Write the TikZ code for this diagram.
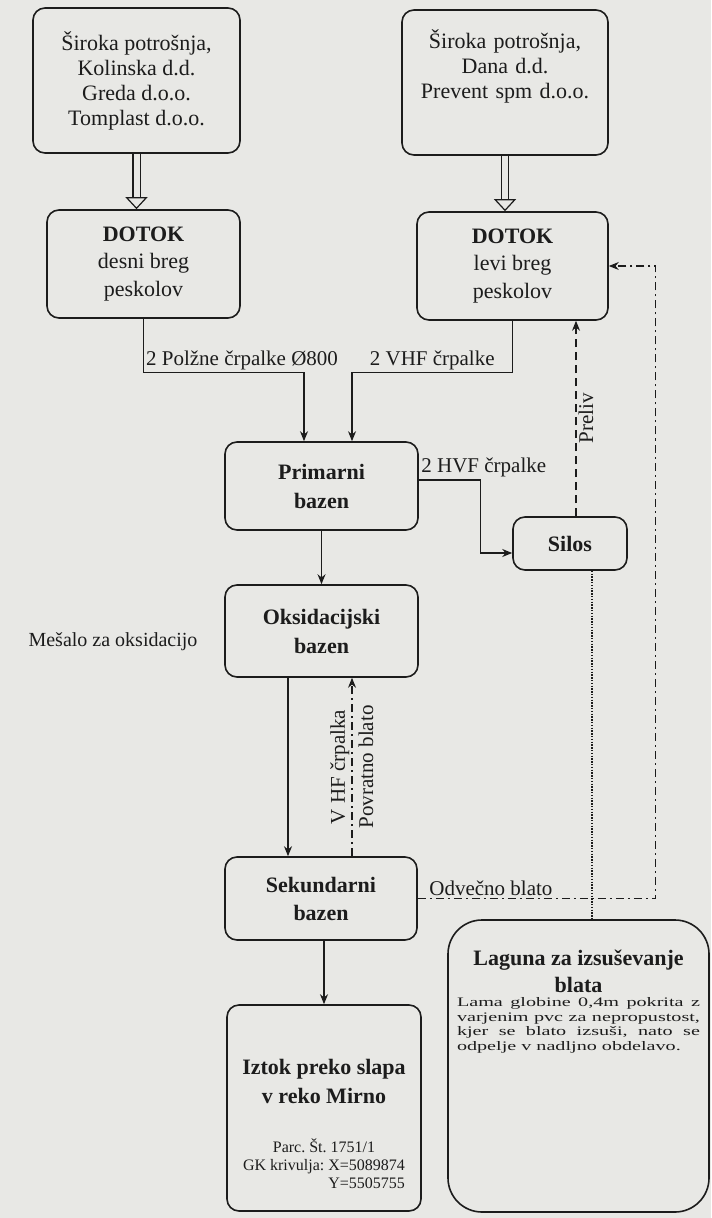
\documentclass[tikz,border=0pt]{standalone}
\usepackage{fontspec}
\setmainfont{Liberation Serif}
\newfontfamily\widefont[FakeStretch=1.55]{Liberation Serif}
\usepackage{tikz}
\usetikzlibrary{arrows.meta, positioning, calc}
\definecolor{bg}{RGB}{232,232,229}
\definecolor{ink}{RGB}{28,28,28}
\tikzset{
    >={Stealth[length=5pt, width=4pt]}, % small filled heads
    box/.style={draw=ink, fill=bg, line width=0.8pt, rounded corners=6pt,
        align=center, inner sep=2pt, text=ink, font=\fontsize{11}{12.5}\selectfont},
    pool/.style={box, font=\bfseries\fontsize{11}{14.5}\selectfont},
    flow/.style={draw=ink, line width=0.6pt, ->},
    lbl/.style={text=ink, inner sep=1pt, font=\fontsize{10.5}{12}\selectfont},
    feed/.style={draw=ink, line width=0.6pt, double=bg, double distance=3pt,
        -{Triangle[open, length=6pt, width=11pt]}},
    overflow/.style={flow, dash pattern=on 4pt off 2.5pt},
    sludge/.style={flow, dash pattern=on 4pt off 2pt on 1pt off 2pt},
    seep/.style={draw=ink, line width=0.6pt, dash pattern=on 0.7pt off 0.7pt},
}

\begin{document}
\frenchspacing
\begin{tikzpicture}[x=0.5pt, y=-0.5pt]
    \path[fill=bg, use as bounding box] (0,0) rectangle (711,1218);

    % sources and inflow
    \node[box, minimum width=103.5pt, minimum height=72.5pt] (src1) at (136.5,80.5)
        {Široka potrošnja,\\ Kolinska d.d.\\ Greda d.o.o.\\ Tomplast d.o.o.};
    \node[box, text width=99pt, inner ysep=0pt, text height=19.5pt, text depth=53pt] (src2) at (505,82.5)
        {{\centering Široka potrošnja,\\ Dana d.d.\\ Prevent spm d.o.o.\par}};
    \node[box, minimum width=96.5pt, minimum height=54pt, font=\fontsize{11}{13.75}\selectfont] (dotd) at (143.5,264)
        {\textbf{DOTOK}\\ desni breg\\ peskolov};
    \node[box, minimum width=95.5pt, minimum height=54pt, font=\fontsize{11}{13.75}\selectfont] (dotl) at (512.5,266)
        {\textbf{DOTOK}\\ levi breg\\ peskolov};

    % basins
    \node[pool, minimum width=96.5pt, minimum height=44pt] (prim) at (321.5,486) {Primarni\\ bazen};
    \node[pool, minimum width=57pt, minimum height=26.5pt] (silos) at (570,543.5) {Silos};
    \node[pool, minimum width=96.5pt, minimum height=46pt] (oks) at (321.5,631) {Oksidacijski\\ bazen};
    \node[pool, minimum width=96pt, minimum height=41.5pt, font=\bfseries\fontsize{11}{14}\selectfont] (sek) at (321,898.5) {Sekundarni\\ bazen};
    \node[lbl, font=\fontsize{10}{12}\selectfont] (mix) at (113,642) {Mešalo za oksidacijo};

    % outlets
    \node[box, text width=93pt, inner ysep=0pt, text height=34.5pt, text depth=68.5pt, align=justify] (izt) at (324,1108)
        {{\centering\bfseries\fontsize{11}{14.5}\selectfont Iztok preko slapa\\ v reko Mirno\par}
        \vskip 15.5pt
        {\centering\fontsize{8}{9}\selectfont
        \begin{tabular}[t]{@{}c@{}}Parc. Št. 1751/1\\ GK krivulja: X=5089874\\ \hfill Y=5505755\end{tabular}\par}};
    \node[box, rounded corners=17pt, text width=121.5pt, inner xsep=4.5pt, inner ysep=0pt,
        text height=22.5pt, text depth=123.5pt, align=justify] (lag) at (578.5,1066)
        {{\centering\bfseries\fontsize{11}{13.5}\selectfont Laguna za izsuševanje\\ blata\par}
        {\widefont\fontsize{6.5}{7.25}\selectfont Lama globine 0,4m pokrita z\linebreak
        varjenim pvc za nepropustost,\linebreak kjer se blato izsuši, nato se\linebreak
        odpelje v nadljno obdelavo.\par}};

    \coordinate (pv) at ($(silos.north)+(6,0)$);
    \coordinate (sv) at ($(silos.south)+(22,0)$);

    \draw[feed] (src1.south) -- (src1.south |- dotd.north);
    \draw[feed] (src2.south) -- (src2.south |- dotl.north);

    \draw[flow] (dotd.south) -- ++(0,54) node[lbl, anchor=south west] {2 Polžne črpalke Ø800}
        -| ($(prim.north)+(-17.5,0)$);
    \draw[flow] (dotl.south) -- ++(0,52)
        -| node[lbl, pos=0.25, above] {2 VHF črpalke} ($(prim.north)+(30.5,0)$);
    \draw[flow] ($(prim.east)+(0,-6)$) node[lbl, anchor=south west] {2 HVF črpalke}
        -- ++(62,0) |- ($(silos.west)+(0,9.5)$);
    \draw[flow] (prim) -- (oks);
    \draw[flow] ($(oks.south)+(-33.5,0)$) -- ($(sek.north)+(-33,0)$);
    \draw[sludge] ($(sek.north)+(31,0)$) --
        node[lbl, midway, rotate=90, anchor=south] {V HF črpalka}
        node[lbl, midway, rotate=90, anchor=north, inner sep=3pt] {Povratno blato}
        ($(oks.south)+(30.5,0)$);
    \draw[overflow] (pv) -- node[lbl, midway, rotate=90, anchor=north] {Preliv} (pv |- dotl.south);
    \draw[seep] (sv) -- (sv |- lag.north);
    \draw[sludge] (sek.east) node[lbl, anchor=south west, xshift=4.5pt] {Odvečno blato}
        -- ++(238,0) |- (dotl.east);
    \draw[flow] (izt.north |- sek.south) -- (izt.north);
\end{tikzpicture}
\end{document}
